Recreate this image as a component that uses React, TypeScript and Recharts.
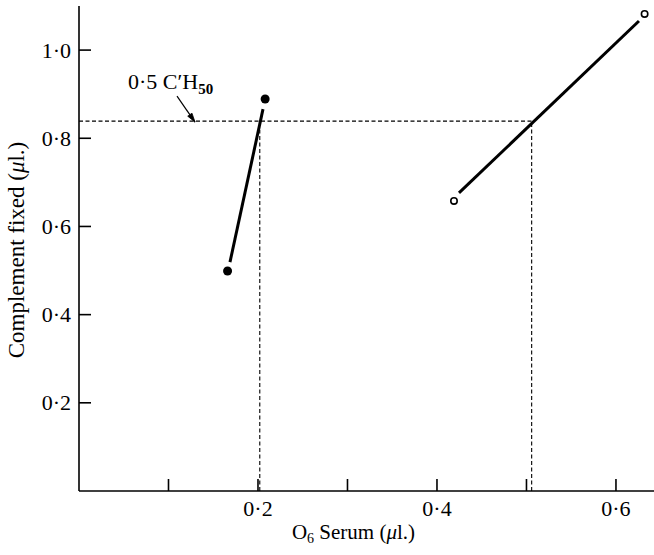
import { ComposedChart, Line, Scatter, XAxis, YAxis, ReferenceLine, ReferenceDot } from "recharts";

// points
const filledPoints = [
  { x: 0.166, y: 0.499 },
  { x: 0.208, y: 0.889 },
];
const openPoints = [
  { x: 0.419, y: 0.658 },
  { x: 0.632, y: 1.082 },
];
// drawn fit lines (they stop short of the points)
const filledFit = [
  { x: 0.1687, y: 0.519 },
  { x: 0.2056, y: 0.866 },
];
const openFit = [
  { x: 0.4246, y: 0.676 },
  { x: 0.6257, y: 1.066 },
];

const halfCH50 = 0.839;
const crossFilled = 0.202;
const crossOpen = 0.5058;

const xTicks = [0.1, 0.2, 0.3, 0.4, 0.5, 0.6];
const xTickLabels = ["", "0·2", "", "0·4", "", "0·6"];
const yTicks = [0.2, 0.4, 0.6, 0.8, 1.0];
const yTickLabels = ["0·2", "0·4", "0·6", "0·8", "1·0"];

const FONT = "'Liberation Serif', 'Times New Roman', serif";

const FilledDot = (p: any) => <circle cx={p.cx} cy={p.cy} r={4.5} fill="#000" />;
const OpenDot = (p: any) => (
  <circle cx={p.cx} cy={p.cy} r={3.2} fill="#fff" stroke="#000" strokeWidth={1.6} />
);

const XTick = (p: any) => (
  <text x={p.x} y={p.y + 13} textAnchor="middle" fontFamily={FONT} fontSize={22} fill="#000">
    {xTickLabels[p.index]}
  </text>
);

const YTick = (p: any) => (
  <text x={p.x} y={p.y} textAnchor="end" dominantBaseline="central" fontFamily={FONT} fontSize={22} fill="#000">
    {yTickLabels[p.index]}
  </text>
);

const Annotation = (p: any) => (
  <text x={p.cx} y={p.cy} fontFamily={FONT} fontSize={22} fill="#000">
    0·5 C′H
    <tspan fontSize={15} fontWeight="bold" dy={5}>
      50
    </tspan>
  </text>
);

const ArrowHead = (p: any) => {
  const dx = 0.57;
  const dy = 0.823;
  const px = -dy;
  const py = dx;
  const bx = p.cx - 9 * dx;
  const by = p.cy - 9 * dy;
  return (
    <path
      d={`M${bx + 2.6 * px},${by + 2.6 * py} L${p.cx},${p.cy} L${bx - 2.6 * px},${by - 2.6 * py} Z`}
      fill="#000"
      stroke="#000"
      strokeWidth={0.8}
    />
  );
};

const XLabel = (p: any) => {
  const vb = p.viewBox;
  return (
    <text x={vb.x + vb.width / 2 - 13} y={vb.y + 48} textAnchor="middle" fontFamily={FONT} fontSize={21} fill="#000">
      O
      <tspan fontSize={14} dy={4}>
        6
      </tspan>
      <tspan dy={-4}> Serum (</tspan>
      <tspan fontStyle="italic">μ</tspan>
      <tspan>l.)</tspan>
    </text>
  );
};

const YLabel = () => {
  const cx = 16;
  const cy = 250;
  return (
    <text
      x={cx}
      y={cy}
      transform={`rotate(-90 ${cx} ${cy})`}
      textAnchor="middle"
      dominantBaseline="central"
      fontFamily={FONT}
      fontSize={23}
      fill="#000"
    >
      Complement fixed (<tspan fontStyle="italic">μ</tspan>l.)
    </text>
  );
};

export default function App() {
  return (
    <div style={{ position: "absolute", left: 0, top: 0, background: "#fff" }}>
      <ComposedChart width={654} height={555} margin={{ top: 6, right: 0, bottom: 0, left: 0 }}>
        <XAxis
          type="number"
          dataKey="x"
          domain={[0, 0.6425]}
          ticks={xTicks}
          tickSize={-12}
          tickMargin={24}
          height={64}
          axisLine={{ stroke: "#000", strokeWidth: 1.6 }}
          tickLine={{ stroke: "#000", strokeWidth: 1.6 }}
          tick={<XTick />}
          label={<XLabel />}
          allowDataOverflow
        />
        <YAxis
          type="number"
          dataKey="y"
          domain={[0, 1.1]}
          ticks={yTicks}
          tickSize={-12}
          tickMargin={20}
          width={79}
          axisLine={{ stroke: "#000", strokeWidth: 1.6 }}
          tickLine={{ stroke: "#000", strokeWidth: 1.6 }}
          tick={<YTick />}
          label={<YLabel />}
          allowDataOverflow
        />
        <ReferenceLine
          segment={[
            { x: 0, y: halfCH50 },
            { x: crossOpen, y: halfCH50 },
          ]}
          stroke="#000"
          strokeWidth={1.1}
          strokeDasharray="4 2.5"
          ifOverflow="visible"
        />
        <ReferenceLine
          segment={[
            { x: crossFilled, y: 0 },
            { x: crossFilled, y: halfCH50 - 0.02 },
          ]}
          stroke="#000"
          strokeWidth={1.1}
          strokeDasharray="4 2.5"
          ifOverflow="visible"
        />
        <ReferenceLine
          segment={[
            { x: crossOpen, y: 0 },
            { x: crossOpen, y: halfCH50 },
          ]}
          stroke="#000"
          strokeWidth={1.1}
          strokeDasharray="4 2.5"
          ifOverflow="visible"
        />
        <ReferenceLine
          segment={[
            { x: 0.1095, y: 0.8957 },
            { x: 0.1296, y: 0.8367 },
          ]}
          stroke="#000"
          strokeWidth={1.2}
          ifOverflow="visible"
        />
        <ReferenceDot x={0.1296} y={0.8367} shape={ArrowHead} ifOverflow="visible" />
        <ReferenceDot x={0.0547} y={0.9116} shape={Annotation} ifOverflow="visible" />
        <Line data={filledFit} dataKey="y" type="linear" stroke="#000" strokeWidth={3} dot={false} isAnimationActive={false} />
        <Line data={openFit} dataKey="y" type="linear" stroke="#000" strokeWidth={3} dot={false} isAnimationActive={false} />
        <Scatter data={filledPoints} dataKey="y" shape={FilledDot} isAnimationActive={false} />
        <Scatter data={openPoints} dataKey="y" shape={OpenDot} isAnimationActive={false} />
      </ComposedChart>
    </div>
  );
}
